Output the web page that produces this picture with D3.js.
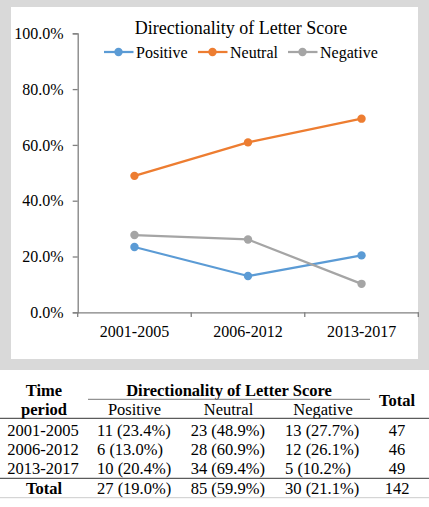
<!DOCTYPE html>
<html>
<head>
<meta charset="utf-8">
<script src="https://cdn.jsdelivr.net/npm/d3@7/dist/d3.min.js"></script>
<style>
html,body{margin:0;padding:0;background:#fff;}
svg{display:block;}
svg text{font-family:"Liberation Serif","Times New Roman",serif !important;}
</style>
</head>
<body>
<svg id="c" width="429" height="507"></svg>
<script>
const periods = ["2001-2005", "2006-2012", "2013-2017"];
const seriesNames = ["Positive", "Neutral", "Negative"];
const positivePct = [23.4, 13.0, 20.4];
const neutralPct = [48.9, 60.9, 69.4];
const negativePct = [27.7, 26.1, 10.2];
const positiveN = [11, 6, 10];
const neutralN = [23, 28, 34];
const negativeN = [13, 12, 5];
const rowTotals = [47, 46, 49];
const totalCounts = [27, 85, 30];
const totalPcts = [19.0, 59.9, 21.1];
const grandTotal = 142;
const yTicks = [0, 20, 40, 60, 80, 100];

const colors = ["#5B9BD5", "#ED7D31", "#A5A5A5"];
const series = [positivePct, neutralPct, negativePct];

const svg = d3.select("#c");

// chart frame
svg.append("rect").attr("x",0).attr("y",0).attr("width",429).attr("height",370).attr("fill","#d9d9d9");
svg.append("rect").attr("x",11).attr("y",7).attr("width",407).attr("height",352).attr("fill","#fff");

const x = d3.scaleBand().domain(periods).range([77.7, 418.3]).padding(0);
const y = d3.scaleLinear().domain([0, 100]).range([312.3, 33.3]);

// y axis
const yAxis = svg.append("g").attr("transform","translate(77.7,0)")
  .call(d3.axisLeft(y).tickValues(yTicks).tickSize(5).tickPadding(9).tickFormat(d => d.toFixed(1) + "%"));
yAxis.attr("font-family", null).attr("font-size", 16);
yAxis.select(".domain").attr("stroke","#808080").attr("stroke-width",1.3);
yAxis.selectAll(".tick line").attr("stroke","#808080").attr("stroke-width",1.3);
yAxis.selectAll("text").attr("fill","#000");

// x axis
const xAxis = svg.append("g").attr("transform","translate(0,312.3)")
  .call(d3.axisBottom(x).tickSize(0).tickPadding(0));
xAxis.attr("font-family", null).attr("font-size", 16);
xAxis.select(".domain").attr("stroke","#808080").attr("stroke-width",1.3);
xAxis.selectAll(".tick text").attr("fill","#000").attr("dy",null).attr("y",25);
// boundary ticks between categories
const bounds = periods.map(p => x(p)).concat([x(periods[periods.length-1]) + x.bandwidth()]);
svg.append("g").selectAll("line").data(bounds).join("line")
  .attr("x1",d=>d).attr("x2",d=>d).attr("y1",312.3).attr("y2",317)
  .attr("stroke","#808080").attr("stroke-width",1.3);

const cx = p => x(p) + x.bandwidth()/2;

// lines
series.forEach((vals, i) => {
  const line = d3.line().x((d,j)=>cx(periods[j])).y(d=>y(d));
  svg.append("path").datum(vals).attr("d", line).attr("fill","none")
    .attr("stroke", colors[i]).attr("stroke-width", 2.25).attr("stroke-linejoin","round");
  svg.append("g").selectAll("circle").data(vals).join("circle")
    .attr("cx",(d,j)=>cx(periods[j])).attr("cy",d=>y(d)).attr("r",4.2).attr("fill",colors[i]);
});

// title
svg.append("text").attr("x",241).attr("y",34).attr("text-anchor","middle")
  .attr("font-size",18).attr("fill","#000").text("Directionality of Letter Score");

// legend
const legX = [104, 198, 288];
seriesNames.forEach((n,i)=>{
  const g = svg.append("g");
  g.append("line").attr("x1",legX[i]).attr("x2",legX[i]+29.5).attr("y1",52).attr("y2",52)
    .attr("stroke",colors[i]).attr("stroke-width",2.25);
  g.append("circle").attr("cx",legX[i]+14.5).attr("cy",52).attr("r",4.2).attr("fill",colors[i]);
  g.append("text").attr("x",legX[i]+32).attr("y",57.5).attr("font-size",16).attr("fill","#000").text(n);
});

// table
const tfs = 16.5;
const T = svg.append("g").attr("font-size",tfs).attr("fill","#000");
T.append("text").attr("x",44).attr("y",395.7).attr("text-anchor","middle").attr("font-weight","bold").text("Time");
T.append("text").attr("x",44).attr("y",415).attr("text-anchor","middle").attr("font-weight","bold").text("period");
T.append("text").attr("x",229).attr("y",395.7).attr("text-anchor","middle").attr("font-weight","bold").text("Directionality of Letter Score");
T.append("text").attr("x",397).attr("y",405.5).attr("text-anchor","middle").attr("font-weight","bold").text("Total");
const colCenters = [134.5, 228.5, 323];
const colLeft = [97, 190.7, 285];
seriesNames.forEach((n,i)=>{
  T.append("text").attr("x",colCenters[i]).attr("y",415).attr("text-anchor","middle").text(n);
});
svg.append("line").attr("x1",88).attr("x2",370).attr("y1",399.3).attr("y2",399.3).attr("stroke","#777").attr("stroke-width",1);
svg.append("line").attr("x1",0).attr("x2",429).attr("y1",418.3).attr("y2",418.3).attr("stroke","#333").attr("stroke-width",1);

const rowY = [436, 455, 474];
const counts = [positiveN, neutralN, negativeN];
periods.forEach((p,r)=>{
  T.append("text").attr("x",43).attr("y",rowY[r]).attr("text-anchor","middle").text(p);
  counts.forEach((c,i)=>{
    T.append("text").attr("x",colLeft[i]).attr("y",rowY[r]).text(c[r] + " (" + series[i][r].toFixed(1) + "%)");
  });
  T.append("text").attr("x",397).attr("y",rowY[r]).attr("text-anchor","middle").text(rowTotals[r]);
});
svg.append("line").attr("x1",0).attr("x2",429).attr("y1",478.3).attr("y2",478.3).attr("stroke","#333").attr("stroke-width",1);
T.append("text").attr("x",44).attr("y",494).attr("text-anchor","middle").attr("font-weight","bold").text("Total");
totalCounts.forEach((c,i)=>{
  T.append("text").attr("x",colLeft[i]).attr("y",494).text(c + " (" + totalPcts[i].toFixed(1) + "%)");
});
T.append("text").attr("x",397).attr("y",494).attr("text-anchor","middle").text(grandTotal);
svg.append("line").attr("x1",0).attr("x2",429).attr("y1",497.7).attr("y2",497.7).attr("stroke","#ccc").attr("stroke-width",1);
</script>
</body>
</html>
